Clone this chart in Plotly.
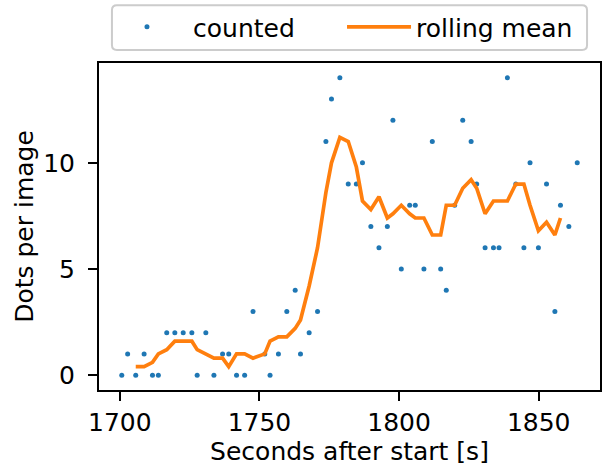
import pandas as pd
import plotly.graph_objects as go

# Sample times (seconds after start) and dot counts per image
seconds = [
    1700.7, 1702.8, 1705.7, 1708.7, 1711.7, 1713.8, 1716.8, 1719.7, 1722.7, 1725.8,
    1727.7, 1730.8, 1733.7, 1736.8, 1739.0, 1741.8, 1744.7, 1747.7, 1751.9, 1753.8,
    1756.8, 1759.8, 1762.8, 1764.7, 1767.8, 1770.8, 1773.8, 1775.8, 1778.8, 1781.8,
    1784.7, 1786.9, 1789.9, 1792.8, 1795.8, 1797.8, 1800.8, 1803.8, 1805.8, 1808.9,
    1811.9, 1814.9, 1816.9, 1819.9, 1822.8, 1825.8, 1827.8, 1830.8, 1833.8, 1835.8,
    1838.8, 1841.8, 1844.7, 1846.9, 1849.9, 1852.8, 1855.8, 1857.8, 1860.8, 1863.8,
]
counted = [
    0, 1, 0, 1, 0, 0, 2, 2, 2, 2,
    0, 2, 0, 1, 1, 0, 0, 3, 1, 0,
    1, 3, 4, 1, 2, 3, 11, 13, 14, 9,
    9, 10, 7, 6, 7, 12, 5, 8, 8, 5,
    11, 5, 4, 8, 12, 11, 9, 6, 6, 6,
    14, 9, 6, 10, 6, 9, 3, 8, 7, 10,
]
window = 5

rolling_mean = pd.Series(counted, dtype=float).rolling(window, center=True).mean()

x_ticks = [1700, 1750, 1800, 1850]
y_ticks = [0, 5, 10]

BLUE = "#1f77b4"
ORANGE = "#ff7f0e"
FONT = "DejaVu Sans"
W, H = 606, 471
L, R, T, B = 99, 4, 62, 81

fig = go.Figure()
fig.add_trace(go.Scatter(
    x=seconds, y=counted, mode="markers", name="counted",
    marker=dict(color=BLUE, size=5, line=dict(width=0)),
    legend="legend",
))
fig.add_trace(go.Scatter(
    x=seconds, y=rolling_mean, mode="lines", name="rolling mean",
    line=dict(color=ORANGE, width=3.7),
    legend="legend2",
))

axis_common = dict(
    showline=True, mirror=True, linecolor="black", linewidth=2,
    ticks="outside", ticklen=9, tickwidth=2, tickcolor="black",
    showgrid=False, zeroline=False,
    tickfont=dict(family=FONT, size=25, color="black"),
    title_font=dict(family=FONT, size=25, color="black"),
)

xmin, xmax = min(seconds), max(seconds)
xpad = 0.05 * (xmax - xmin)
fig.update_xaxes(
    range=[xmin - xpad, xmax + xpad], tickvals=x_ticks,
    title_text="Seconds after start [s]", title_standoff=6,
    **axis_common,
)
fig.update_yaxes(
    range=[-0.7, 14.7], tickvals=y_ticks,
    title_text="Dots per image", title_standoff=2, ticklabelstandoff=8,
    **axis_common,
)

# rounded legend frame in pixel terms, converted to paper coordinates
pw, ph = W - L - R, H - T - B
def px(xp):
    return (xp - L) / pw
def py(yp):
    return (H - B - yp) / ph
x0, x1, y0, y1, r = 112, 589, 4, 49, 5
path = (
    f"M{px(x0 + r)},{py(y0)} L{px(x1 - r)},{py(y0)} Q{px(x1)},{py(y0)} {px(x1)},{py(y0 + r)} "
    f"L{px(x1)},{py(y1 - r)} Q{px(x1)},{py(y1)} {px(x1 - r)},{py(y1)} "
    f"L{px(x0 + r)},{py(y1)} Q{px(x0)},{py(y1)} {px(x0)},{py(y1 - r)} "
    f"L{px(x0)},{py(y0 + r)} Q{px(x0)},{py(y0)} {px(x0 + r)},{py(y0)} Z"
)
fig.add_shape(type="path", path=path, xref="paper", yref="paper",
              line=dict(color="#cccccc", width=2), fillcolor="white", layer="below")

legend_common = dict(
    orientation="h", y=py(26), yanchor="middle",
    bgcolor="rgba(0,0,0,0)", borderwidth=0,
    font=dict(family=FONT, size=25, color="black"),
)

fig.update_layout(
    width=W, height=H,
    margin=dict(l=L, r=R, t=T, b=B, pad=0),
    paper_bgcolor="white", plot_bgcolor="white",
    font=dict(family=FONT, size=25, color="black"),
    showlegend=True,
    legend=dict(x=px(101), xanchor="left", itemwidth=82, **legend_common),
    legend2=dict(x=px(343), xanchor="left", itemwidth=64, **legend_common),
)

fig.write_html("out.html")
